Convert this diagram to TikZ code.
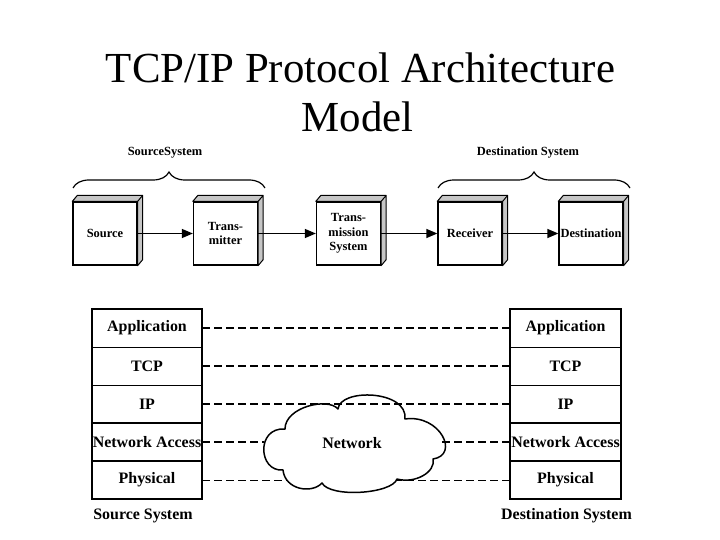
\documentclass[tikz,border=0pt]{standalone}
\usepackage{fontspec}
\setmainfont{Liberation Serif}
\usetikzlibrary{arrows.meta,decorations.pathreplacing}
\tikzset{
  box3d/.style={draw, line width=1.3bp, fill=white, minimum width=64bp, minimum height=63bp,
    inner sep=1bp, align=center, font=\fontsize{12.5}{14.5}\bfseries\selectfont},
  toplabel/.style={font=\fontsize{12.5}{14}\bfseries\selectfont, inner sep=0pt},
  layer/.style={draw, line width=0.8bp, minimum width=110bp, minimum height=38bp, inner sep=0pt,
    font=\fontsize{16}{18}\bfseries\selectfont},
  botlabel/.style={font=\fontsize{16}{18}\bfseries\selectfont, inner sep=0pt},
  flowarrow/.style={-{Triangle[length=11bp,width=9bp]}, line width=1.3bp},
  dline/.style={line width=1.5bp, dash pattern=on 8bp off 4bp},
  thindline/.style={line width=0.8bp, dash pattern=on 8bp off 4bp},
  bracestyle/.style={decorate, decoration={brace, amplitude=16bp}, line width=1.2bp},
}
\newcommand\sideface[1]{%
  \filldraw[fill=gray!45, line width=1bp, line join=round]
    (#1.north west) -- ([shift={(5,-6)}]#1.north west) -- ([shift={(5,-6)}]#1.north east)
    -- ([shift={(5,-6)}]#1.south east) -- (#1.south east) -- (#1.north east) -- cycle
    (#1.north east) -- ([shift={(5,-6)}]#1.north east);}
\begin{document}
\begin{tikzpicture}[x=1bp,y=-1bp]
\useasboundingbox (0,0) rectangle (720,540);
% title
\node[font=\fontsize{43}{49}\selectfont, anchor=base, inner sep=0pt] (t1) at (360.5,83) {TCP/IP Protocol Architecture};
\node[font=\fontsize{43}{49}\selectfont, anchor=base, inner sep=0pt] (t2) at (357.5,132) {Model};
% top boxes
\node[box3d] (src) at (105,233.5) {Source};
\node[box3d] (tx) at (225.5,233.5) {Trans-\\mitter};
\node[box3d] (ts) at (348.5,233.5) {Trans-\\mission\\System};
\node[box3d] (rx) at (470,233.5) {Receiver};
\node[box3d, inner sep=0pt] (dst) at (591,233.5) {Destination};
\sideface{src}\sideface{tx}\sideface{ts}\sideface{rx}\sideface{dst}
\draw[flowarrow] (src) -- (tx);
\draw[flowarrow] (tx) -- (ts);
\draw[flowarrow] (ts) -- (rx);
\draw[flowarrow] (rx) -- (dst);
% braces
\coordinate (b1) at (73,188);
\coordinate (b2) at (265,188);
\coordinate (b3) at (438,188);
\coordinate (b4) at (630,188);
\draw[bracestyle] (b1) -- (b2);
\draw[bracestyle] (b3) -- (b4);
\node[toplabel] (srcsys) at (165,153) {SourceSystem};
\node[toplabel] (dstsys) at (528,153) {Destination System};
% stacks
\node[layer] (la) at (147,328) {Application};
\node[layer] (lt) at (147,366) {TCP};
\node[layer] (li) at (147,404) {IP};
\node[layer] (ln) at (147,442) {Network Access};
\node[layer] (lp) at (147,480) {Physical};
\node[layer] (ra) at (565.5,328) {Application};
\node[layer] (rt) at (565.5,366) {TCP};
\node[layer] (ri) at (565.5,404) {IP};
\node[layer] (rn) at (565.5,442) {Network Access};
\node[layer] (rp) at (565.5,480) {Physical};
\draw[line width=2bp] (la.north west) rectangle (lp.south east);
\draw[line width=2bp] (ra.north west) rectangle (rp.south east);
\draw[line width=1.8bp] (ln.north west) -- (ln.north east) (lp.north west) -- (lp.north east);
\draw[line width=1.8bp] (rn.north west) -- (rn.north east) (rp.north west) -- (rp.north east);
\node[botlabel] (lsys) at (143,516) {Source System};
\node[botlabel] (rsys) at (566.5,516) {Destination System};
% dashed peer lines
\draw[dline] (la.east) -- (ra.west);
\draw[dline] (lt.east) -- (rt.west);
\draw[thindline] (lp.east) -- (rp.west);
% cloud
\filldraw[fill=white, line width=1.5bp, line join=round]
  (285,429) .. controls (285,407) and (328,397) .. (338,409)
  .. controls (340,388) and (408,390) .. (405,419)
  .. controls (440,414) and (460,455) .. (433,459)
  .. controls (436,472) and (415,484) .. (397,479)
  .. controls (392,494) and (330,498) .. (322,483)
  .. controls (312,494) and (285,490) .. (283,470)
  .. controls (258,472) and (256,427) .. (285,429) -- cycle;
\node[botlabel] (net) at (352,443) {Network};
\coordinate (cl) at (263.5,442);
\coordinate (cr) at (442,442);
\draw[dline] (li.east) -- (ri.west);
\draw[dline] (ln.east) -- (cl);
\draw[dline] (cr) -- (rn.west);
\end{tikzpicture}
\end{document}
